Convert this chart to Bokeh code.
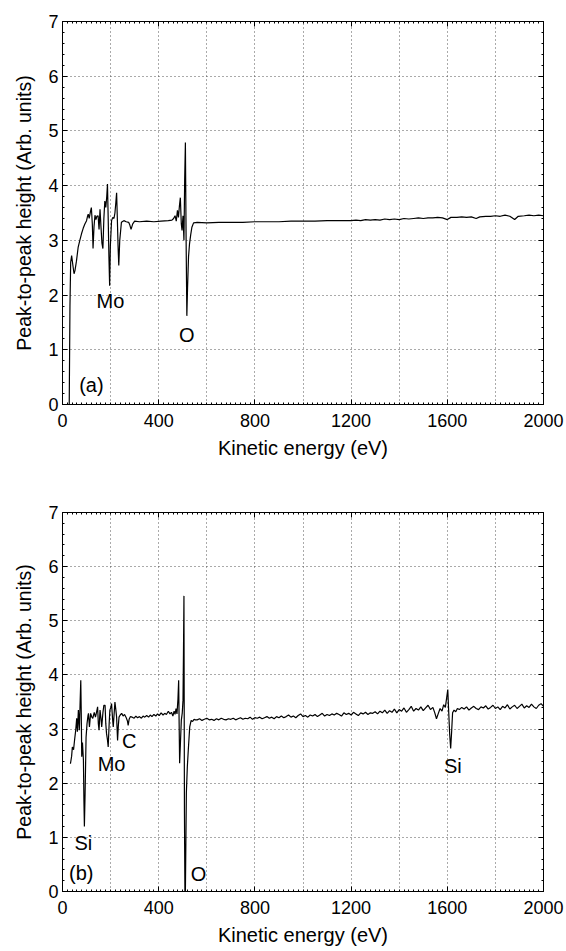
from bokeh.plotting import figure
from bokeh.models import FixedTicker, LinearAxis, Range1d
from bokeh.layouts import column
from bokeh.embed import file_html
from bokeh.resources import INLINE
from bokeh.core.properties import value

FONT = "Liberation Sans"

# ---------------- tick labels ----------------
x_tick_values = [0, 400, 800, 1200, 1600, 2000]
x_grid_values = [200, 400, 600, 800, 1000, 1200, 1400, 1600, 1800]
y_tick_values = [0, 1, 2, 3, 4, 5, 6, 7]
y_grid_values = [1, 2, 3, 4, 5, 6]

# ---------------- panel (a) spectrum ----------------
a_x1 = [28, 31, 34, 38, 43, 48, 52, 58, 65, 72,
        79, 86, 93, 100, 104, 107, 111, 116, 120, 124,
        127, 131, 135, 139, 143, 148, 152, 156, 160, 164,
        168, 172, 176, 180, 184, 187, 190, 193, 196, 199,
        204, 209, 214, 218, 222, 225, 228, 231, 234, 238,
        245, 255, 265, 275, 280, 285, 292, 300]
a_y1 = [0.00, 1.80, 2.60, 2.72, 2.55, 2.39, 2.45, 2.62, 2.87, 3.00,
        3.12, 3.22, 3.30, 3.36, 3.44, 3.48, 3.40, 3.52, 3.60, 3.30,
        2.85, 3.25, 3.46, 3.38, 3.44, 3.45, 3.20, 3.57, 3.25, 2.95,
        2.85, 3.40, 3.72, 3.60, 3.80, 4.03, 3.40, 2.70, 2.17, 2.90,
        3.36, 3.42, 3.40, 3.50, 3.70, 3.87, 3.40, 2.90, 2.54, 3.00,
        3.33, 3.36, 3.34, 3.33, 3.28, 3.20, 3.30, 3.35]
a_x2 = [320, 350, 380, 410, 440, 455, 462, 468, 473, 478,
        482, 486, 490, 494, 497, 501, 505, 508, 511, 514,
        517, 520, 524, 528, 533, 538, 545]
a_y2 = [3.34, 3.35, 3.34, 3.35, 3.36, 3.37, 3.40, 3.45, 3.35, 3.55,
        3.42, 3.62, 3.78, 3.30, 3.18, 3.45, 3.00, 4.10, 4.79, 3.00,
        1.62, 2.14, 2.70, 2.93, 3.10, 3.24, 3.32]
a_x3 = [560, 600, 650, 700, 750, 800, 850, 900, 950, 1000,
        1050, 1100, 1150, 1200, 1220, 1240, 1260, 1280, 1300, 1320,
        1340, 1360, 1380, 1400, 1420, 1440, 1460, 1480, 1500, 1520,
        1540, 1560, 1580, 1600, 1615, 1640, 1660, 1680, 1700, 1720,
        1735, 1760, 1780, 1800, 1820, 1840, 1860, 1880, 1895, 1920,
        1940, 1960, 1980, 2000]
a_y3 = [3.33, 3.32, 3.33, 3.33, 3.33, 3.34, 3.34, 3.34, 3.35, 3.35,
        3.35, 3.36, 3.36, 3.36, 3.37, 3.36, 3.38, 3.37, 3.38, 3.37,
        3.39, 3.38, 3.39, 3.38, 3.40, 3.39, 3.40, 3.41, 3.40, 3.41,
        3.41, 3.42, 3.41, 3.38, 3.42, 3.42, 3.43, 3.42, 3.43, 3.40,
        3.43, 3.44, 3.44, 3.45, 3.44, 3.46, 3.44, 3.38, 3.44, 3.45,
        3.46, 3.45, 3.46, 3.45]

a_labels = ["Mo", "O", "(a)"]
a_label_x = [199, 517, 120]
a_label_y = [1.90, 1.27, 0.36]

# ---------------- panel (b) spectrum ----------------
b_x1 = [33, 38, 41, 46, 50, 55, 59, 62, 66, 70,
        73, 76, 78, 80, 83, 87, 89, 91, 94, 98,
        102, 106, 108, 112, 117, 122, 126, 132, 137, 141,
        146, 149, 152, 156, 160, 163, 168, 172, 177, 180,
        183, 187, 190, 194, 197, 201, 204, 208, 211, 215,
        218, 222, 225, 229, 232, 235, 240, 246, 252, 258,
        264, 270, 273, 277, 282, 290]
b_y1 = [2.36, 2.50, 2.67, 2.62, 2.79, 2.98, 3.20, 2.95, 3.35, 2.98,
        3.45, 3.90, 3.30, 2.49, 2.75, 2.43, 1.70, 1.20, 1.82, 2.85,
        3.10, 3.25, 3.29, 3.04, 3.29, 3.22, 3.20, 3.31, 3.22, 3.30,
        3.41, 3.10, 2.98, 3.35, 3.20, 3.04, 3.30, 3.44, 3.44, 3.10,
        2.92, 2.80, 2.67, 3.10, 3.35, 3.40, 3.47, 3.20, 3.04, 3.30,
        3.50, 3.35, 3.22, 2.79, 3.05, 3.22, 3.26, 3.29, 3.24, 3.27,
        3.22, 3.15, 3.07, 3.18, 3.23, 3.22]
b_x2 = [298, 305, 312, 320, 328, 335, 342, 350, 358, 365,
        372, 380, 388, 395, 402, 410, 418, 425, 432, 440,
        447, 453, 459, 464, 468,
        472, 476, 480, 483, 485, 487, 490, 494, 498, 501,
        503, 505, 507, 509, 511, 515, 519, 523, 529, 535,
        541, 547, 552]
b_y2 = [3.20, 3.24, 3.21, 3.23, 3.20, 3.24, 3.22, 3.25, 3.22, 3.26,
        3.23, 3.27, 3.24, 3.28, 3.25, 3.30, 3.26, 3.29, 3.27, 3.33,
        3.28, 3.31, 3.24, 3.33, 3.27,
        3.38, 3.28, 3.55, 3.90, 3.10, 2.37, 2.70, 3.16, 3.30, 3.53,
        4.40, 5.46, 1.50, 0.00, 0.00, 1.82, 2.30, 2.61, 3.04, 3.16,
        3.14, 3.18, 3.17]
b_x3 = [560, 570, 580, 590, 600, 610, 620, 630, 640, 650,
        660, 670, 680, 690, 700, 710, 720, 730, 740, 750,
        760, 770, 780, 790, 800, 810, 820, 830, 840, 850,
        860, 870, 880, 890, 900, 910, 920, 930, 940, 950,
        960, 970, 980, 990, 1000, 1010, 1020, 1030, 1040, 1050,
        1060, 1070, 1080, 1090, 1100, 1110, 1120, 1130, 1140, 1150,
        1160, 1170, 1180, 1190, 1200, 1210, 1220, 1230, 1240, 1250,
        1260, 1270, 1280, 1290, 1300, 1310, 1320, 1330, 1340, 1350,
        1360, 1370, 1380, 1390, 1400, 1410, 1420, 1430, 1440, 1450,
        1460, 1470, 1480, 1490, 1500, 1510, 1520, 1530, 1540]
b_y3 = [3.17, 3.19, 3.16, 3.18, 3.20, 3.17, 3.18, 3.16, 3.19, 3.17,
        3.20, 3.18, 3.17, 3.19, 3.18, 3.20, 3.17, 3.19, 3.21, 3.18,
        3.20, 3.19, 3.22, 3.18, 3.21, 3.20, 3.22, 3.19, 3.21, 3.23,
        3.20, 3.22, 3.19, 3.23, 3.21, 3.24, 3.21, 3.23, 3.26, 3.22,
        3.24, 3.21, 3.25, 3.28, 3.23, 3.25, 3.22, 3.26, 3.24, 3.27,
        3.23, 3.26, 3.29, 3.24, 3.27, 3.25, 3.28, 3.26, 3.29, 3.27,
        3.24, 3.30, 3.27, 3.29, 3.26, 3.31, 3.28, 3.25, 3.30, 3.28,
        3.31, 3.27, 3.30, 3.29, 3.32, 3.28, 3.33, 3.30, 3.35, 3.29,
        3.34, 3.31, 3.37, 3.30, 3.36, 3.33, 3.39, 3.31, 3.36, 3.42,
        3.33, 3.38, 3.35, 3.41, 3.34, 3.39, 3.44, 3.36, 3.40]
b_x4 = [1548, 1555, 1562, 1570, 1578, 1585, 1592, 1598, 1602, 1606,
        1610, 1614, 1618, 1622, 1628, 1635, 1642]
b_y4 = [3.30, 3.19, 3.28, 3.38, 3.33, 3.45, 3.40, 3.60, 3.73, 3.30,
        2.90, 2.64, 2.95, 3.30, 3.35, 3.32, 3.38]
b_x5 = [1650, 1660, 1670, 1680, 1690, 1700, 1710, 1720, 1730, 1740,
        1750, 1760, 1770, 1780, 1790, 1800, 1810, 1820, 1830, 1840,
        1850, 1860, 1870, 1880, 1890, 1900, 1910, 1920, 1930, 1940,
        1950, 1960, 1970, 1980, 1990, 2000]
b_y5 = [3.36, 3.40, 3.37, 3.41, 3.35, 3.39, 3.42, 3.38, 3.36, 3.41,
        3.39, 3.43, 3.37, 3.40, 3.44, 3.38, 3.41, 3.36, 3.42, 3.39,
        3.45, 3.37, 3.41, 3.44, 3.38, 3.42, 3.46, 3.39, 3.43, 3.40,
        3.46, 3.41, 3.38, 3.44, 3.47, 3.42]

b_labels = ["Si", "(b)", "Mo", "C", "O", "Si"]
b_label_x = [87, 78, 204, 277, 566, 1623]
b_label_y = [0.90, 0.35, 2.35, 2.78, 0.33, 2.31]

X_LABEL = "Kinetic energy (eV)"
Y_LABEL = "Peak-to-peak height (Arb. units)"


def style_axis(ax, ticks, minor, show_labels):
    ax.ticker = FixedTicker(ticks=ticks, minor_ticks=minor)
    ax.axis_line_color = "black"
    ax.axis_line_width = 1
    ax.major_tick_in = 5
    ax.major_tick_out = 0
    ax.minor_tick_in = 2
    ax.minor_tick_out = 0
    ax.major_tick_line_color = "black"
    ax.minor_tick_line_color = "black"
    ax.major_label_text_font = FONT
    ax.major_label_text_font_size = "18px"
    if show_labels:
        ax.major_label_text_color = "black"
    else:
        ax.major_label_text_color = None
        ax.major_label_standoff = 0
    ax.axis_label_text_font = FONT
    ax.axis_label_text_font_size = "20px"
    ax.axis_label_text_font_style = "normal"
    ax.axis_label_text_color = "black"


def make_panel(xs, ys, lab, lx, ly, height, top, bottom):
    p = figure(width=564, height=height,
               x_range=Range1d(0, 2000), y_range=Range1d(0, 7),
               output_backend="svg", toolbar_location=None,
               min_border_left=62, min_border_right=21,
               min_border_top=top, min_border_bottom=bottom,
               x_axis_label=X_LABEL, y_axis_label=Y_LABEL)
    p.background_fill_color = "white"
    p.border_fill_color = "white"
    p.outline_line_color = "black"
    p.outline_line_width = 1

    x_minor = [v for v in range(0, 2001, 20)]
    y_minor = [v / 5 for v in range(0, 36)]

    style_axis(p.xaxis[0], x_tick_values, x_minor, True)
    style_axis(p.yaxis[0], y_tick_values, y_minor, True)
    p.xaxis[0].major_label_standoff = 9
    p.xaxis[0].axis_label_standoff = 7
    p.yaxis[0].major_label_standoff = 4
    p.yaxis[0].axis_label_standoff = 10
    p.yaxis[0].axis_label_text_font_size = "19.5px"

    ax_top = LinearAxis()
    style_axis(ax_top, x_tick_values, x_minor, False)
    p.add_layout(ax_top, "above")
    ax_right = LinearAxis()
    style_axis(ax_right, y_tick_values, y_minor, False)
    p.add_layout(ax_right, "right")

    p.xgrid.ticker = FixedTicker(ticks=x_grid_values)
    p.ygrid.ticker = FixedTicker(ticks=y_grid_values)
    for g in (p.xgrid, p.ygrid):
        g.grid_line_color = "#555555"
        g.grid_line_dash = "1 3"
        g.grid_line_width = 1

    p.line(xs, ys, line_color="black", line_width=1.2)
    p.text(x=lx, y=ly, text=lab, text_font=value(FONT),
           text_font_size="20px", text_color="black",
           text_align="center", text_baseline="middle")
    return p


ax_all = a_x1 + a_x2 + a_x3
ay_all = a_y1 + a_y2 + a_y3
bx_all = b_x1 + b_x2 + b_x3 + b_x4 + b_x5
by_all = b_y1 + b_y2 + b_y3 + b_y4 + b_y5

p1 = make_panel(ax_all, ay_all, a_labels, a_label_x, a_label_y, 466, 21, 62)
p2 = make_panel(bx_all, by_all, b_labels, b_label_x, b_label_y, 484, 46, 59)

layout = column(p1, p2)
open("out.html", "w").write(file_html(layout, INLINE))
